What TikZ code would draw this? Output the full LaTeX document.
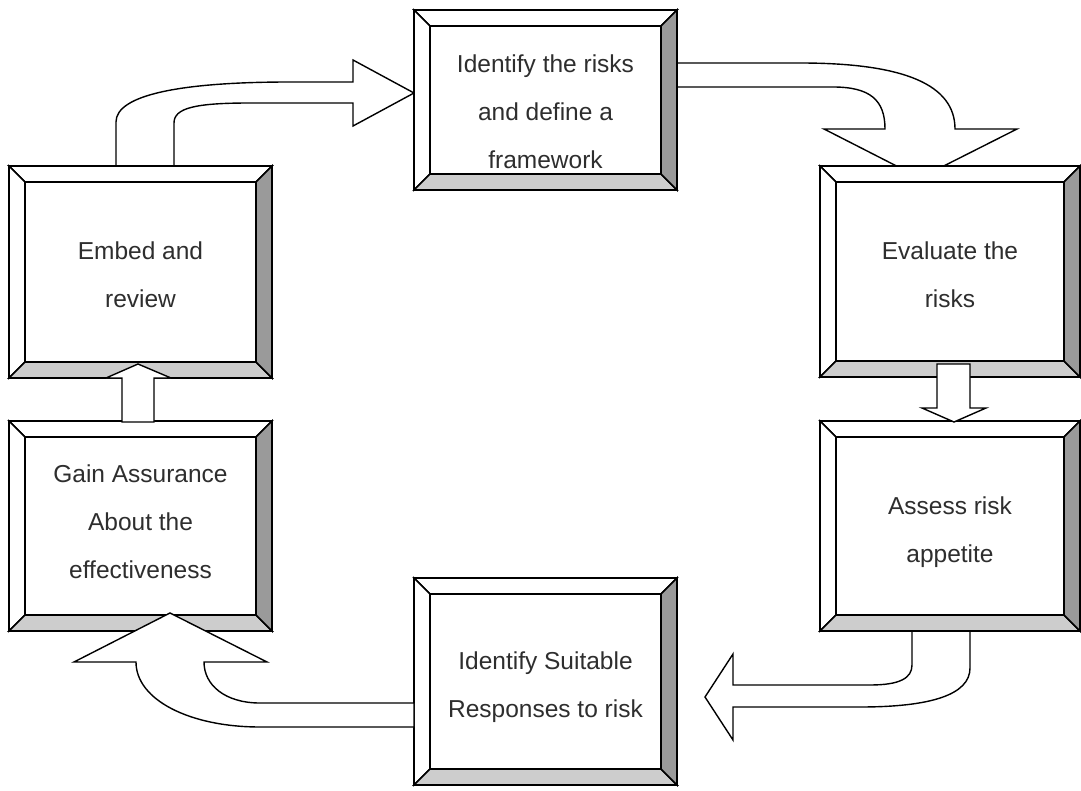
\documentclass[tikz,border=0pt]{standalone}
\usepackage{fontspec}
\setmainfont{Liberation Sans}
\definecolor{faceR}{HTML}{9A9A9A}
\definecolor{faceB}{HTML}{CDCDCD}
\tikzset{
  boxedge/.style={draw=black, line width=1.5pt, line join=miter},
  blockarrow/.style={draw=black, fill=white, line width=1.4pt, line join=miter},
  boxtext/.style={align=center, anchor=north, inner sep=0pt,
    font=\fontsize{24.5}{48}\selectfont, text=black!82},
}
% bevelled box: name, x1, y1, x2, y2, top of text, text
\newcommand{\bevbox}[7]{%
  \filldraw[boxedge, fill=white] (#2,#3) -- (#4,#3) -- (#4-16,#3+16) -- (#2+16,#3+16) -- cycle;
  \filldraw[boxedge, fill=white] (#2,#3) -- (#2+16,#3+16) -- (#2+16,#5-16) -- (#2,#5) -- cycle;
  \filldraw[boxedge, fill=faceB] (#2,#5) -- (#2+16,#5-16) -- (#4-16,#5-16) -- (#4,#5) -- cycle;
  \filldraw[boxedge, fill=faceR] (#4,#3) -- (#4,#5) -- (#4-16,#5-16) -- (#4-16,#3+16) -- cycle;
  \filldraw[boxedge, fill=white] (#2+16,#3+16) rectangle (#4-16,#5-16);
  \draw[boxedge] (#2,#3) rectangle (#4,#5);
  \node[boxtext] (#1) at ({(#2+#4)/2},#6) {#7};
}
\begin{document}
\begin{tikzpicture}[x=1pt, y=-1pt]
\useasboundingbox (0,0) rectangle (1081,791);

% connectors whose heads sit behind the boxes
\draw[blockarrow] (116,166) -- (116,122) .. controls (116,95) and (180,82) .. (290,82)
  -- (353,82) -- (353,60) -- (414,93) -- (353,126) -- (353,103) -- (250,103)
  .. controls (195,103) and (174,108) .. (174,123) -- (174,166) -- cycle;
\draw[blockarrow] (677,63) -- (800,63) .. controls (905,63) and (955,85) .. (955,129)
  -- (1017,129) -- (920,178) -- (824,129) -- (885,129)
  .. controls (885,100) and (870,87) .. (833,87) -- (677,87) -- cycle;
\draw[blockarrow] (970,631) -- (970,668) .. controls (970,695) and (930,707) .. (860,707)
  -- (733,707) -- (733,740) -- (705,697) -- (733,654) -- (733,685) -- (870,685)
  .. controls (900,685) and (912,678) .. (912,665) -- (912,631) -- cycle;

% the six steps
\bevbox{identify}{414}{10}{677}{190}{55}{Identify the risks\\and define a\\framework}
\bevbox{embed}{9}{166}{272}{378}{242}{Embed and\\review}
\bevbox{evaluate}{820}{166}{1080}{377}{242}{Evaluate the\\risks}
\bevbox{assess}{820}{421}{1080}{631}{497}{Assess risk\\appetite}
\bevbox{gain}{9}{421}{272}{631}{465}{Gain Assurance\\About the\\effectiveness}
\bevbox{suitable}{414}{578}{677}{785}{652}{Identify Suitable\\Responses to risk}

% connectors drawn over the bevels
\draw[blockarrow] (937,364) -- (970,364) -- (970,408) -- (986,408) -- (954,422)
  -- (922,408) -- (937,408) -- cycle;
\draw[blockarrow] (414,703) -- (260,703) .. controls (225,703) and (204,685) .. (204,662)
  -- (267,662) -- (170,613) -- (74,662) -- (136,662)
  .. controls (136,700) and (190,727) .. (260,727) -- (414,727) -- cycle;
\draw[blockarrow] (122,422) -- (122,378) -- (106,378) -- (138,364) -- (171,378)
  -- (154,378) -- (154,422) -- cycle;
\end{tikzpicture}
\end{document}
